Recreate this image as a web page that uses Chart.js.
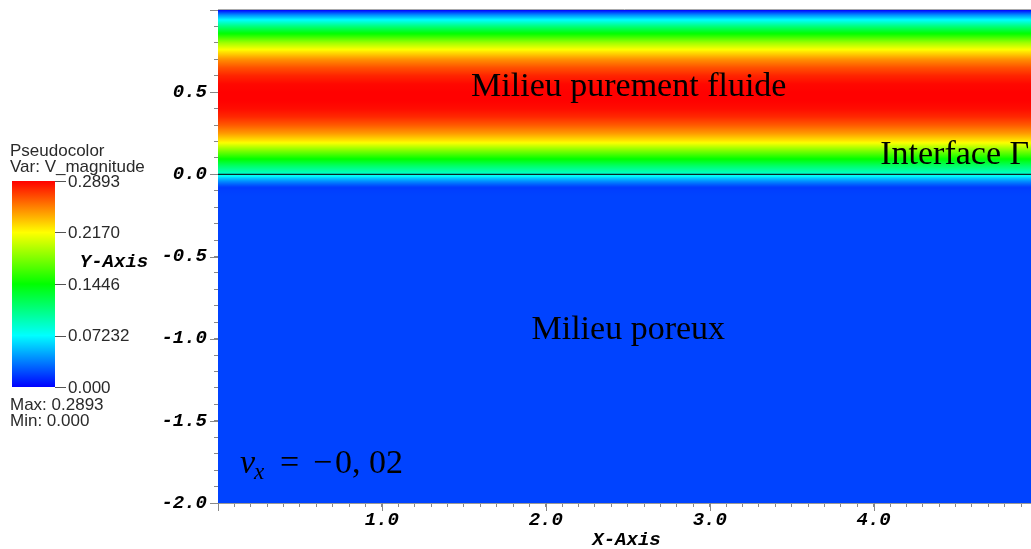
<!DOCTYPE html>
<html>
<head>
<meta charset="utf-8">
<script src="https://cdn.jsdelivr.net/npm/chart.js@4.4.1/dist/chart.umd.min.js"></script>
<style>
  html, body { margin: 0; padding: 0; background: #fff; overflow: hidden; }
  #wrap { width: 1031px; height: 549px; position: relative; }
</style>
</head>
<body>
<div id="wrap"><canvas id="mycanvas"></canvas></div>
<script>
// |V| profile (constant along x)
const profileY = [1.00, 0.97, 0.94, 0.90, 0.85, 0.80, 0.75, 0.70, 0.65, 0.60, 0.55, 0.50, 0.45, 0.40, 0.35, 0.30, 0.25, 0.20, 0.15, 0.10, 0.05, 0.00,
                  -0.02, -0.04, -0.06, -0.08, -0.10, -0.13, -2.00];
const profileSpeed = [0.000, 0.040, 0.072, 0.110, 0.150, 0.190, 0.222, 0.248, 0.266, 0.279, 0.287, 0.289, 0.289, 0.286, 0.278, 0.264, 0.246, 0.222, 0.185, 0.150, 0.115, 0.085,
                      0.060, 0.042, 0.028, 0.016, 0.018, 0.019, 0.019];

const xRange = [0, 4.96];
const yRange = [-2.0, 1.0];
const interfaceY = 0.0;

const vMin = 0.000;
const vMax = 0.2893;
const colorbarTicks = [0.2893, 0.2170, 0.1446, 0.07232, 0.000];
const colorbarLabels = ['0.2893', '0.2170', '0.1446', '0.07232', '0.000'];

const labels = [
    { text: 'Milieu purement fluide', x: 2.506, y: 0.479, align: 'center' },
    { text: 'Milieu poreux', x: 2.503, y: -1.0, align: 'center' },
    { text: 'Interface \u0393', x: 4.04, y: 0.061, align: 'left' }
];
const vxLabel = { x: 0.134, y: -1.817, value: '0, 02' };

// VisIt "hot" colour table: blue, cyan, green, yellow, red
const colorNodes = [[0, 0, 255], [0, 255, 255], [0, 255, 0], [255, 255, 0], [255, 0, 0]];

function colorFor(v) {
    let t = (v - vMin) / (vMax - vMin);
    t = Math.max(0, Math.min(1, t)) * 4;
    let i = Math.min(3, Math.floor(t));
    let f = t - i;
    let a = colorNodes[i], b = colorNodes[i + 1];
    let c = a.map((ch, k) => Math.round(ch + (b[k] - ch) * f));
    return `rgb(${c[0]},${c[1]},${c[2]})`;
}

function speedAt(y) {
    for (let i = 0; i < profileY.length - 1; i++) {
        let y0 = profileY[i], y1 = profileY[i + 1];
        if (y <= y0 && y >= y1) {
            let f = (y0 - y) / (y0 - y1);
            return profileSpeed[i] + (profileSpeed[i + 1] - profileSpeed[i]) * f;
        }
    }
    return y > profileY[0] ? profileSpeed[0] : profileSpeed[profileSpeed.length - 1];
}

function fieldGradient(context) {
    let chart = context.chart;
    let area = chart.chartArea;
    if (!area) return null;
    let yScale = chart.scales.y;
    let g = chart.ctx.createLinearGradient(0, area.top, 0, area.bottom);
    let h = area.bottom - area.top;
    for (let p = area.top; p <= area.bottom; p += 1) {
        let y = yScale.getValueForPixel(p);
        g.addColorStop((p - area.top) / h, colorFor(speedAt(y)));
    }
    return g;
}

const monoFont = { family: 'Liberation Mono', size: 19, weight: 'bold', style: 'italic' };

const overlay = {
    id: 'overlay',
    afterDatasetsDraw(chart) {
        let ctx = chart.ctx;
        let xs = chart.scales.x, ys = chart.scales.y;
        ctx.save();
        ctx.fillStyle = '#000';
        ctx.textBaseline = 'alphabetic';
        ctx.font = '34px "Liberation Serif"';
        labels.forEach(l => {
            ctx.textAlign = l.align;
            ctx.fillText(l.text, xs.getPixelForValue(l.x), ys.getPixelForValue(l.y));
        });

        // v_x = -0,02
        let px = xs.getPixelForValue(vxLabel.x);
        let py = ys.getPixelForValue(vxLabel.y);
        ctx.textAlign = 'left';
        ctx.font = 'italic 34px "Liberation Serif"';
        ctx.fillText('v', px, py);
        ctx.font = 'italic 23px "Liberation Serif"';
        ctx.fillText('x', px + 14, py + 6);
        ctx.font = '34px "Liberation Serif"';
        ctx.fillText('=', px + 40, py);
        ctx.fillText('\u2212', px + 73, py);
        ctx.fillText(vxLabel.value, px + 95, py);
        ctx.restore();
    },
    afterDraw(chart) {
        let ctx = chart.ctx;
        let area = chart.chartArea;
        let xs = chart.scales.x, ys = chart.scales.y;
        ctx.save();

        // top frame line
        ctx.strokeStyle = '#aaa';
        ctx.lineWidth = 1;
        ctx.beginPath();
        ctx.moveTo(area.left, area.top - 0.5);
        ctx.lineTo(area.right, area.top - 0.5);
        ctx.stroke();

        // longer major ticks
        ctx.strokeStyle = '#888';
        xs.ticks.forEach(t => {
            if (Math.abs(t.value - Math.round(t.value)) < 1e-6) {
                let x = Math.round(xs.getPixelForValue(t.value)) + 0.5;
                ctx.beginPath();
                ctx.moveTo(x, area.bottom);
                ctx.lineTo(x, area.bottom + 8);
                ctx.stroke();
            }
        });
        ys.ticks.forEach(t => {
            if (Math.abs(t.value * 2 - Math.round(t.value * 2)) < 1e-6) {
                let y = Math.round(ys.getPixelForValue(t.value)) + 0.5;
                ctx.beginPath();
                ctx.moveTo(area.left - 8, y);
                ctx.lineTo(area.left, y);
                ctx.stroke();
            }
        });

        // axis titles
        ctx.fillStyle = '#000';
        ctx.font = 'italic bold 19px "Liberation Mono"';
        ctx.textAlign = 'center';
        ctx.textBaseline = 'middle';
        ctx.fillText('X-Axis', (area.left + area.right) / 2 + 2, 540);
        ctx.fillText('Y-Axis', 114, 262);

        // colour bar legend
        let barLeft = 12, barRight = 55, barTop = 181, barBottom = 387;
        let g = ctx.createLinearGradient(0, barBottom, 0, barTop);
        for (let i = 0; i <= 40; i++) {
            g.addColorStop(i / 40, colorFor(vMin + (vMax - vMin) * i / 40));
        }
        ctx.fillStyle = g;
        ctx.fillRect(barLeft, barTop, barRight - barLeft, barBottom - barTop);

        ctx.font = '17px "Liberation Sans"';
        ctx.fillStyle = '#2a2a2a';
        ctx.strokeStyle = '#555';
        ctx.textAlign = 'left';
        ctx.textBaseline = 'middle';
        colorbarTicks.forEach((v, i) => {
            let y = barBottom - (v - vMin) / (vMax - vMin) * (barBottom - barTop);
            ctx.beginPath();
            ctx.moveTo(barRight, Math.round(y) + 0.5);
            ctx.lineTo(barRight + 11, Math.round(y) + 0.5);
            ctx.stroke();
            ctx.fillText(colorbarLabels[i], barRight + 13, y + 1);
        });
        ctx.fillText('Pseudocolor', 10, 151);
        ctx.fillText('Var: V_magnitude', 10, 167);
        ctx.fillText('Max: ' + colorbarLabels[0], 10, 405);
        ctx.fillText('Min: ' + colorbarLabels[colorbarLabels.length - 1], 10, 421);
        ctx.restore();
    }
};

document.addEventListener('DOMContentLoaded', function() {
    let ctx = document.getElementById('mycanvas').getContext('2d');
    new Chart(ctx, {
        type: 'line',
        data: {
            datasets: [{
                // whole field, filled down to the bottom with the |V| colours
                data: [{ x: xRange[0], y: yRange[1] }, { x: xRange[1], y: yRange[1] }],
                fill: 'start',
                backgroundColor: fieldGradient,
                borderWidth: 0,
                pointRadius: 0,
                order: 2
            }, {
                // interface line
                data: [{ x: xRange[0], y: interfaceY }, { x: xRange[1], y: interfaceY }],
                fill: false,
                borderColor: '#0a2626',
                borderWidth: 1.2,
                pointRadius: 0,
                order: 1
            }]
        },
        options: {
            responsive: true,
            maintainAspectRatio: false,
            animation: false,
            layout: { padding: { top: 10, left: 0, right: 0, bottom: 0 } },
            plugins: { legend: { display: false }, tooltip: { enabled: false } },
            scales: {
                x: {
                    type: 'linear',
                    min: xRange[0],
                    max: xRange[1],
                    bounds: 'data',
                    afterFit: s => { s.height = 46; s.paddingLeft = 0; s.paddingRight = 0; },
                    grid: { drawOnChartArea: false, tickLength: 4, color: '#888' },
                    border: { color: '#999' },
                    ticks: {
                        stepSize: 0.1,
                        includeBounds: false,
                        autoSkip: false,
                        maxRotation: 0,
                        padding: 2,
                        color: '#000',
                        font: monoFont,
                        callback: v => {
                            let r = Math.round(v * 10) / 10;
                            return (r >= 1 && Math.abs(r - Math.round(r)) < 1e-6) ? r.toFixed(1) : '';
                        }
                    }
                },
                y: {
                    type: 'linear',
                    min: yRange[0],
                    max: yRange[1],
                    bounds: 'data',
                    afterFit: s => { s.width = 218; s.paddingTop = 0; s.paddingBottom = 0; },
                    grid: { drawOnChartArea: false, tickLength: 4, color: '#888' },
                    border: { color: '#999' },
                    ticks: {
                        stepSize: 0.1,
                        includeBounds: false,
                        autoSkip: false,
                        padding: 7,
                        color: '#000',
                        font: monoFont,
                        callback: v => {
                            let r = Math.round(v * 10) / 10;
                            return (r < 1 && Math.abs(r * 2 - Math.round(r * 2)) < 1e-6) ? r.toFixed(1) : '';
                        }
                    }
                }
            }
        },
        plugins: [overlay]
    });
});
</script>
</body>
</html>
